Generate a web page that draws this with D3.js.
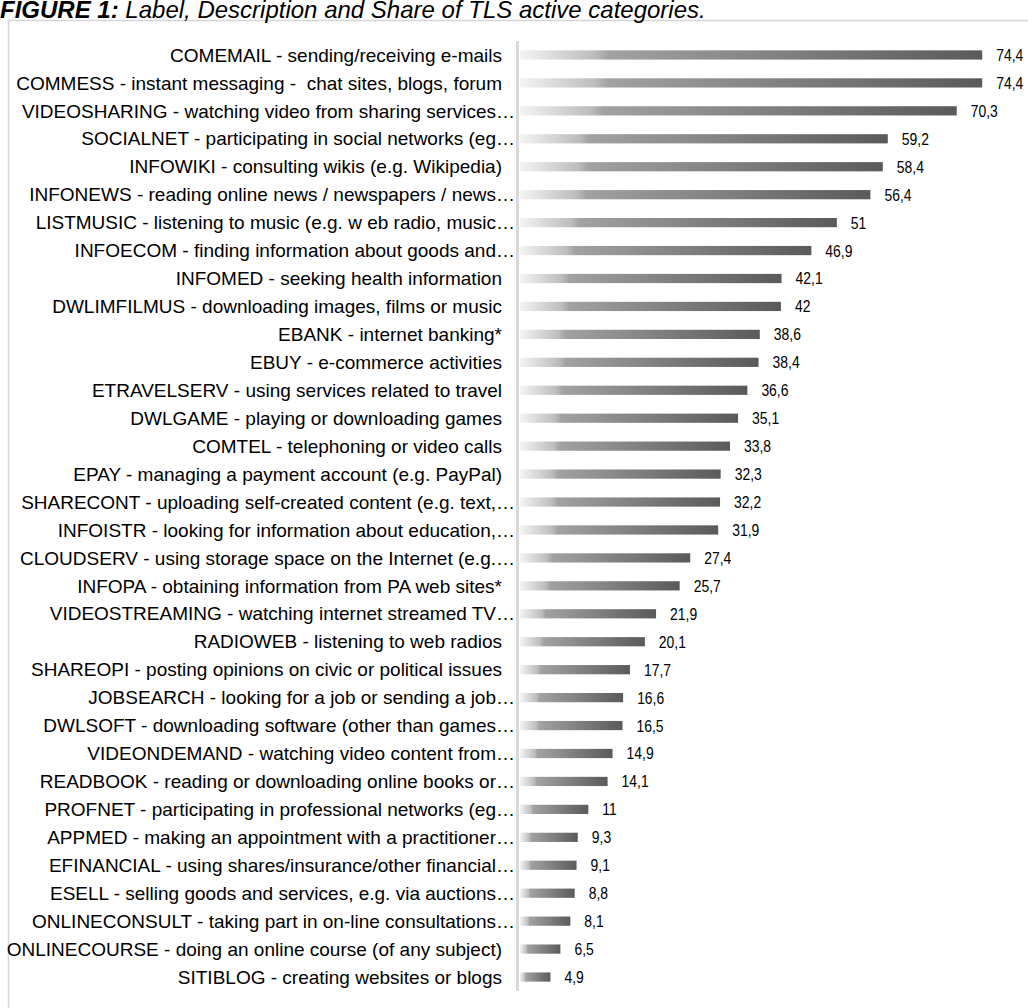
<!DOCTYPE html>
<html>
<head>
<meta charset="utf-8">
<script src="https://cdn.jsdelivr.net/npm/d3@7"></script>
<style>
  html, body { margin: 0; padding: 0; background: #ffffff; overflow: hidden; }
  svg { display: block; }
</style>
</head>
<body>
<script>
// Activity labels (code - description), in display order
const categories = [
  "COMEMAIL - sending/receiving e-mails",
  "COMMESS - instant messaging -\u00a0 chat sites, blogs, forum",
  "VIDEOSHARING - watching video from sharing services…",
  "SOCIALNET - participating in social networks (eg…",
  "INFOWIKI - consulting wikis (e.g. Wikipedia)",
  "INFONEWS - reading online news / newspapers / news…",
  "LISTMUSIC - listening to music (e.g. w eb radio, music…",
  "INFOECOM - finding information about goods and…",
  "INFOMED - seeking health information",
  "DWLIMFILMUS - downloading images, films or music",
  "EBANK - internet banking*",
  "EBUY - e-commerce activities",
  "ETRAVELSERV - using services related to travel",
  "DWLGAME - playing or downloading games",
  "COMTEL - telephoning or video calls",
  "EPAY - managing a payment account (e.g. PayPal)",
  "SHARECONT - uploading self-created content (e.g. text,…",
  "INFOISTR - looking for information about education,…",
  "CLOUDSERV - using storage space on the Internet (e.g.…",
  "INFOPA - obtaining information from PA web sites*",
  "VIDEOSTREAMING - watching internet streamed TV…",
  "RADIOWEB - listening to web radios",
  "SHAREOPI - posting opinions on civic or political issues",
  "JOBSEARCH - looking for a job or sending a job…",
  "DWLSOFT - downloading software (other than games…",
  "VIDEONDEMAND - watching video content from…",
  "READBOOK - reading or downloading online books or…",
  "PROFNET - participating in professional networks (eg…",
  "APPMED - making an appointment with a practitioner…",
  "EFINANCIAL - using shares/insurance/other financial…",
  "ESELL - selling goods and services, e.g. via auctions…",
  "ONLINECONSULT - taking part in on-line consultations…",
  "ONLINECOURSE - doing an online course (of any subject)",
  "SITIBLOG - creating websites or blogs"
];

// Share of individuals (%) for each activity
const shares = [
  74.4, 74.4, 70.3, 59.2, 58.4, 56.4, 51, 46.9, 42.1, 42,
  38.6, 38.4, 36.6, 35.1, 33.8, 32.3, 32.2, 31.9, 27.4, 25.7,
  21.9, 20.1, 17.7, 16.6, 16.5, 14.9, 14.1, 11, 9.3, 9.1,
  8.8, 8.1, 6.5, 4.9
];

const titleBold = "FIGURE 1:";
const titleRest = " Label, Description and Share of TLS active categories.";

const W = 1028, H = 1008;
const rows = categories.map((c, i) => ({ label: c, value: shares[i] }));

const svg = d3.select("body").append("svg")
  .attr("width", W).attr("height", H);

// Horizontal gradient used by every bar (bounding-box units so each bar gets its own ramp)
const defs = svg.append("defs");
const grad = defs.append("linearGradient")
  .attr("id", "barGrad")
  .attr("x1", "0%").attr("x2", "100%").attr("y1", "0%").attr("y2", "0%");
[["0%", "#f4f4f4"], ["16%", "#bdbdbd"], ["19%", "#a2a2a2"], ["100%", "#5a5a5a"]]
  .forEach(([o, c]) => grad.append("stop").attr("offset", o).attr("stop-color", c));

// Outer frame of the figure
svg.append("rect")
  .attr("x", 8.5).attr("y", 20.5)
  .attr("width", 1200).attr("height", 1200)
  .attr("fill", "none")
  .attr("stroke", "#d6d6d6")
  .attr("stroke-width", 1.5);

// Title at the top edge
const title = svg.append("text")
  .attr("x", 0).attr("y", 18)
  .attr("font-family", "'Liberation Sans', Arial, sans-serif")
  .attr("font-size", 24)
  .attr("font-style", "italic")
  .attr("fill", "#000");
title.append("tspan").attr("font-weight", "bold").text(titleBold);
title.append("tspan").text(titleRest);

// Scales
const y = d3.scaleBand()
  .domain(rows.map(d => d.label))
  .range([41, 991])
  .paddingInner(0.67)
  .paddingOuter(0.335);

const x = d3.scaleLinear()
  .domain([0, 80])
  .range([520, 1017]);

// Category axis: only the vertical line is drawn, labels are added separately
const yAxis = d3.axisLeft(y).tickSize(0).tickFormat("");
const axisG = svg.append("g")
  .attr("transform", "translate(517.5,0)")
  .call(yAxis);
axisG.select(".domain")
  .attr("stroke", "#d9d9d9")
  .attr("stroke-width", 3)
  .attr("d", `M0,${y.range()[0]}V${y.range()[1]}`);

// Bars
svg.append("g").selectAll("rect")
  .data(rows)
  .join("rect")
  .attr("x", x(0))
  .attr("y", d => y(d.label))
  .attr("width", d => x(d.value) - x(0))
  .attr("height", y.bandwidth())
  .attr("fill", "url(#barGrad)");

// Category labels
svg.append("g").selectAll("text")
  .data(rows)
  .join("text")
  .attr("x", d => d.label.endsWith("…") ? 515 : 502)
  .attr("y", d => y(d.label) + y.bandwidth() / 2)
  .attr("dy", "0.35em")
  .attr("text-anchor", "end")
  .attr("font-family", "'Liberation Sans', Arial, sans-serif")
  .attr("font-size", 19)
  .attr("fill", "#000")
  .text(d => d.label);

// Value labels (decimal comma, condensed)
const fmt = d3.formatLocale({ decimal: ",", thousands: ".", grouping: [3], currency: ["", ""] }).format("~f");
svg.append("g").selectAll("text")
  .data(rows)
  .join("text")
  .attr("transform", d => `translate(${x(d.value) + 14},${y(d.label) + y.bandwidth() / 2}) scale(0.82,1)`)
  .attr("dy", "0.35em")
  .attr("font-family", "'Liberation Sans', Arial, sans-serif")
  .attr("font-size", 17)
  .attr("fill", "#000")
  .text(d => fmt(d.value));
</script>
</body>
</html>
